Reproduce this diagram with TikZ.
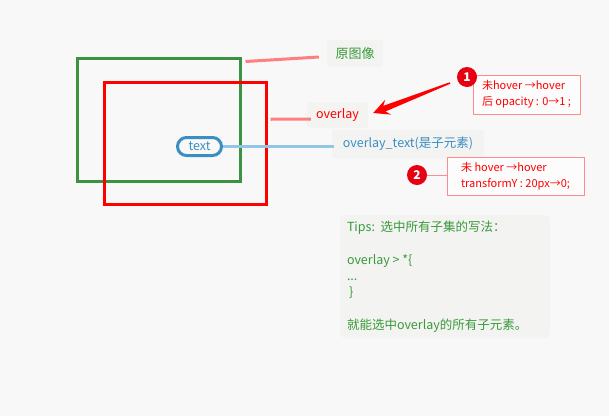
\documentclass[tikz,border=0pt]{standalone}
\usepackage{fontspec}
\setmainfont{Noto Sans CJK SC}
\usetikzlibrary{positioning,calc}
\definecolor{softgray}{HTML}{F8F8F8}
\definecolor{lblGray}{HTML}{F3F3F2}
\definecolor{greenMid}{HTML}{3D923F}
\definecolor{greenText}{HTML}{3A9A3A}
\definecolor{redPure}{HTML}{FF0000}
\definecolor{redDot}{HTML}{E60012}
\definecolor{pinkLite}{HTML}{FF7F7F}
\definecolor{pinkBorder}{HTML}{FF8C8C}
\definecolor{blueMid}{HTML}{3B8EC2}
\definecolor{blueLite}{HTML}{93C5E4}

\begin{document}
\begin{tikzpicture}[x=1pt,y=-1pt,
    frame/.style={line width=3pt,inner sep=0},
    lbl/.style={fill=lblGray,rounded corners=3pt,inner sep=0,font=\fontsize{12.5}{14}\selectfont},
    pinkLine/.style={draw=pinkLite,line width=3pt},
    noteBox/.style={draw=pinkBorder,line width=1pt,fill=white!60!softgray,inner sep=0,
      align=left,text=redPure,font=\fontsize{11}{16}\selectfont},
    numDot/.style={circle,fill=redDot,text=white,minimum size=20pt,inner sep=0,
      font=\bfseries\fontsize{12}{14}\selectfont}]
    \fill[softgray] (0,0) rectangle (609,416);
    \useasboundingbox (0,0) rectangle (609,416);
    % frames
    \node[frame,draw=greenMid,minimum width=163pt,minimum height=123pt] (orig) at (158.5,119.5) {};
    \node[frame,draw=redPure,minimum width=161.5pt,minimum height=121.5pt] (ovl) at (185.25,143.25) {};
    \node[draw=blueMid,line width=3pt,rounded corners=9pt,minimum width=44pt,minimum height=18pt,
          inner sep=0,text=blueMid,font=\fontsize{12.5}{14}\selectfont] (txt) at (199.5,146.5) {text};
    % labels
    \node[lbl,minimum width=56pt,minimum height=27pt,text=greenText,font=\fontsize{13}{15}\selectfont]
          (origLbl) at (355,53.5) {原图像};
    \node[lbl,minimum width=61pt,minimum height=26pt,text=redPure] (ovlLbl) at (337.5,115) {overlay};
    \node[lbl,minimum width=152pt,minimum height=29pt,text=blueMid] (txtLbl) at (408,144)
          {overlay\_text(是子元素)};
    \draw[pinkLine] ($(orig.north east)+(4,5)$) -- ($(origLbl.west)+(-8,3.5)$);
    \draw[pinkLine] ($(ovl.east)+(3,-24)$) -- ($(ovlLbl.west)+(4,4)$);
    \draw[blueLite,line width=3pt] (txt.east) -- ($(txtLbl.west |- txt.east)+(2,0)$);
    % notes
    \node[noteBox,minimum width=107pt,minimum height=39pt] (note1) at (526.5,94.5)
          {未hover →hover\\后 opacity : 0→1 ;};
    \node[numDot] (num1) at (467,77) {1};
    \node[noteBox,minimum width=137pt,minimum height=38pt] (note2) at (515.5,176)
          {未 hover →hover\\transformY : 20px→0;};
    \node[numDot] (num2) at (417,175) {2};
    \draw[pinkBorder,line width=1pt] (num2) -- (num2 -| note2.west);
    % tapered arrow
    \coordinate (arrTail) at ($(num1)+(-17,6)$);
    \coordinate (arrTip) at ($(ovlLbl.east)+(5,-2)$);
    \coordinate (arrBarb) at ($(arrTip)!16pt!(arrTail)$);
    \coordinate (arrNeck) at ($(arrTip)!12pt!(arrTail)$);
    \fill[redPure] ($(arrTail)!0.8pt!90:(arrTip)$) -- ($(arrNeck)!3pt!-90:(arrTail)$)
      -- ($(arrBarb)!8pt!-90:(arrTail)$) -- (arrTip) -- ($(arrBarb)!8pt!90:(arrTail)$)
      -- ($(arrNeck)!3pt!90:(arrTail)$) -- ($(arrTail)!0.8pt!-90:(arrTip)$) -- cycle;
    % tips
    \node[fill=lblGray,rounded corners=6pt,minimum width=210pt,minimum height=123pt,inner sep=0]
          (tips) at (445,276.5) {};
    \node[anchor=north west,inner sep=0,align=left,text=greenText,font=\fontsize{12.5}{16.3}\selectfont]
          (tipsTxt) at ($(tips.north west)+(7,6)$)
          {Tips:\ \ 选中所有子集的写法：\\[\baselineskip]overlay > *\{\\...\\\hspace{2pt}\}\\[\baselineskip]就能选中overlay的所有子元素。};
\end{tikzpicture}
\end{document}
